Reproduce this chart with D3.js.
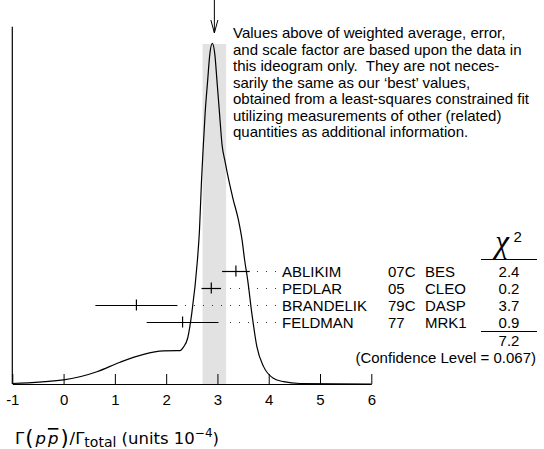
<!DOCTYPE html>
<html>
<head>
<meta charset="utf-8">
<script src="https://cdn.jsdelivr.net/npm/d3@7/dist/d3.min.js"></script>
<style>
  html, body { margin: 0; padding: 0; background: #fff; }
  svg { display: block; }
  text { font-family: "Liberation Sans", Arial, Helvetica, sans-serif; font-size: 15px; fill: #000; }
</style>
</head>
<body>
<svg id="chart" width="544" height="449"></svg>
<script>
// ---- data ----
const names = ["ABLIKIM", "PEDLAR", "BRANDELIK", "FELDMAN"];
const years = ["07C", "05", "79C", "77"];
const experiments = ["BES", "CLEO", "DASP", "MRK1"];
const values = [3.36, 2.88, 1.42, 2.32];
const errors = [0.27, 0.19, 0.80, 0.70];
const chi2 = ["2.4", "0.2", "3.7", "0.9"];
const chi2Total = "7.2";
const confidenceLevel = "0.067";
const average = 2.94;
const averageError = 0.23;
const xTicks = [-1, 0, 1, 2, 3, 4, 5, 6];
// ideogram curve (relative height)
const curveX = [-1.0, 0.0, 0.65, 1.1, 1.56, 1.95, 2.21, 2.27, 2.34, 2.42, 2.50, 2.61, 2.65, 2.69, 2.72, 2.76, 2.81, 2.85, 2.90, 2.95, 2.99, 3.04, 3.09, 3.15, 3.22, 3.31, 3.41, 3.48, 3.53, 3.59, 3.67, 3.77, 3.90, 4.09, 4.29, 4.61, 6.0];
const curveY = [0.0015, 0.012, 0.036, 0.064, 0.087, 0.097, 0.098, 0.098, 0.109, 0.135, 0.208, 0.364, 0.452, 0.599, 0.687, 0.795, 0.892, 0.966, 1.0, 0.966, 0.892, 0.795, 0.702, 0.652, 0.599, 0.540, 0.481, 0.423, 0.364, 0.305, 0.208, 0.109, 0.051, 0.017, 0.007, 0.0015, 0];
const noteLines = [
  "Values above of weighted average, error,",
  "and scale factor are based upon the data in",
  "this ideogram only.  They are not neces-",
  "sarily the same as our \u2018best\u2019 values,",
  "obtained from a least-squares constrained fit",
  "utilizing measurements of other (related)",
  "quantities as additional information."
];

// ---- drawing ----
const svg = d3.select("#chart");
const x = d3.scaleLinear().domain([-1, 6]).range([12.3, 371.3]);
const y = d3.scaleLinear().domain([0, 1]).range([384, 43.3]);
const row = d3.scalePoint().domain(names).range([271, 322]);

// shaded band (average +- error)
svg.append("rect")
  .attr("x", x(average - averageError))
  .attr("width", x(average + averageError) - x(average - averageError))
  .attr("y", 44)
  .attr("height", 384 - 44)
  .attr("fill", "#e2e2e2");

// dotted leaders
svg.selectAll("line.leader").data(names).join("line")
  .attr("class", "leader")
  .attr("x1", 276)
  .attr("x2", (d, i) => x(values[i] + errors[i]) + 4)
  .attr("y1", d => row(d) + 0.5)
  .attr("y2", d => row(d) + 0.5)
  .attr("stroke", "#333")
  .attr("stroke-width", 1)
  .attr("stroke-dasharray", "1,8");

// ideogram curve
const pts = curveX.map((v, i) => [v, curveY[i]]);
svg.append("path")
  .attr("d", d3.line().x(d => x(d[0])).y(d => y(d[1])).curve(d3.curveMonotoneX)(pts))
  .attr("fill", "none")
  .attr("stroke", "#000")
  .attr("stroke-width", 1.2);

// error bars
const bars = svg.selectAll("g.bar").data(names).join("g").attr("class", "bar");
bars.append("line")
  .attr("x1", (d, i) => x(values[i] - errors[i]))
  .attr("x2", (d, i) => x(values[i] + errors[i]))
  .attr("y1", d => row(d) + 0.5).attr("y2", d => row(d) + 0.5)
  .attr("stroke", "#000").attr("stroke-width", 1.2);
bars.append("line")
  .attr("x1", (d, i) => x(values[i])).attr("x2", (d, i) => x(values[i]))
  .attr("y1", d => row(d) - 5.5).attr("y2", d => row(d) + 5.5)
  .attr("stroke", "#000").attr("stroke-width", 1.2);

// x axis
const axis = d3.axisBottom(x).tickValues(xTicks).tickFormat(d3.format("d"))
  .tickSizeInner(-10).tickSizeOuter(0).tickPadding(10);
const gx = svg.append("g").attr("transform", "translate(0,384)").call(axis);
gx.select(".domain").attr("stroke", "#000").attr("stroke-width", 1.2);
gx.selectAll(".tick line").attr("stroke", "#000").attr("stroke-width", 1);
gx.selectAll(".tick text")
  .attr("font-family", "Liberation Sans, Arial, sans-serif")
  .attr("font-size", 15).attr("fill", "#000")
  .text(d => d < 0 ? "-" + Math.abs(d) : d);

// left vertical line
svg.append("line").attr("x1", x(-1)).attr("x2", x(-1)).attr("y1", 26.7).attr("y2", 384)
  .attr("stroke", "#000").attr("stroke-width", 1.2);

// arrow at weighted average
const ax = x(average);
svg.append("line").attr("x1", ax).attr("x2", ax).attr("y1", 0).attr("y2", 32.5)
  .attr("stroke", "#000").attr("stroke-width", 1);
svg.append("path")
  .attr("d", `M${ax - 3.5},20 L${ax},33 L${ax + 3.5},20`)
  .attr("fill", "none").attr("stroke", "#000").attr("stroke-width", 1);

// note text
const note = svg.append("text").attr("x", 233).attr("y", 38).style("white-space", "pre");
noteLines.forEach((t, i) => {
  note.append("tspan").attr("x", 233).attr("y", 38 + i * 16.5).text(t);
});

// row labels
const rowText = (arr, xpos, anchor) => svg.selectAll(null).data(arr).join("text")
  .attr("x", xpos).attr("y", (d, i) => row(names[i]) + 6)
  .attr("text-anchor", anchor).text(d => d);
rowText(names, 282, "start");
rowText(years, 388, "start");
rowText(experiments, 425, "start");
rowText(chi2, 509, "middle");

// chi2 header
svg.append("text").attr("x", 502).attr("y", 252).attr("text-anchor", "middle")
  .style("font-family", "Liberation Serif, Times New Roman, serif")
  .style("font-style", "italic").style("font-size", "31px").text("\u03C7");
svg.append("text").attr("x", 513.5).attr("y", 242).style("font-size", "15px").text("2");
svg.append("line").attr("x1", 481).attr("x2", 537).attr("y1", 259.5).attr("y2", 259.5)
  .attr("stroke", "#000").attr("stroke-width", 1.2);
svg.append("line").attr("x1", 481).attr("x2", 537).attr("y1", 331.5).attr("y2", 331.5)
  .attr("stroke", "#000").attr("stroke-width", 1.2);
svg.append("text").attr("x", 509).attr("y", 346).attr("text-anchor", "middle").text(chi2Total);
svg.append("text").attr("x", 536).attr("y", 363).attr("text-anchor", "end")
  .text("(Confidence Level = " + confidenceLevel + ")");

// x axis title
const title = svg.append("text").attr("x", 15).attr("y", 444)
  .style("font-family", "DejaVu Sans, sans-serif").style("font-size", "16.5px");
title.append("tspan").text("\u0393");
title.append("tspan").attr("dx", 1).style("font-size", "21px").attr("dy", 1).text("(");
title.append("tspan").attr("dx", 2).attr("dy", -1).style("font-style", "italic").text("p");
title.append("tspan").attr("dx", 2).style("font-style", "italic").style("text-decoration", "overline").text("p");
title.append("tspan").attr("dx", 2).style("font-size", "21px").attr("dy", 1).text(")");
title.append("tspan").attr("dx", 1).attr("dy", -1).text("/\u0393");
title.append("tspan").attr("dy", 3).style("font-size", "14px").text("total");
title.append("tspan").attr("dy", -3).text(" (units 10");
title.append("tspan").attr("dy", -7).style("font-size", "12px").text("\u22124");
title.append("tspan").attr("dy", 7).text(")");
</script>
</body>
</html>
